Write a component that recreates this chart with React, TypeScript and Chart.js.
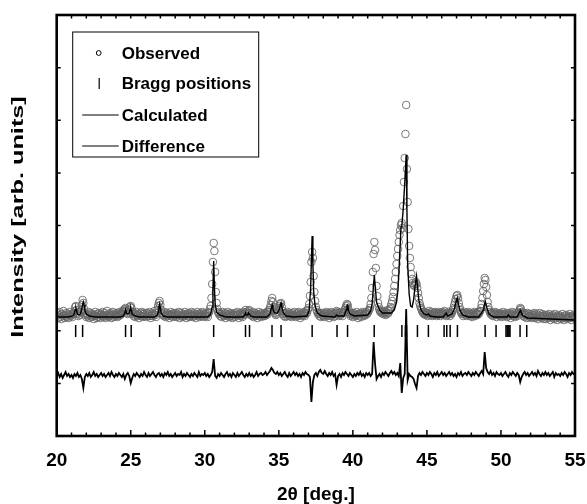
import React, { useEffect, useRef } from "react";
import { Chart, registerables } from "chart.js";

Chart.register(...registerables);

// ---- axes ----
const X_MIN = 20;
const X_MAX = 55;
const Y_MIN = -2;
const Y_MAX = 419;
const X_TICK_STEP = 5;
const Y_DIVISIONS = 8;

// ---- observed pattern (2θ from 20 to 55 in 0.05° steps) ----
const obsStart = 20;
const obsStep = 0.05;
const observed = [
  118,121,116,119,122,117,115,120,118,123,119,116,118,121,117,120,116,119,122,118,
  119,117,120,121,123,127,128,124,120,118,121,119,122,124,129,134,131,125,121,119,
  117,120,118,122,116,119,121,117,120,118,115,119,122,118,116,120,117,121,119,116,
  120,118,122,117,119,121,116,118,123,119,117,120,118,121,116,119,122,117,120,118,
  119,121,117,120,118,122,119,120,121,123,122,124,125,126,123,121,120,122,124,127,
  128,126,122,120,118,121,117,119,122,118,120,116,119,121,118,122,117,120,118,121,
  119,117,121,118,120,122,118,116,119,121,118,120,123,119,117,121,124,128,131,133,
  129,124,121,119,120,118,122,117,119,121,118,120,116,119,122,118,120,117,121,119,
  118,121,117,120,119,122,116,118,121,119,117,120,118,122,119,116,120,118,121,117,
  120,118,122,119,117,121,118,120,116,119,122,118,120,117,121,119,118,122,120,117,
  119,121,118,120,117,121,122,125,128,136,150,172,191,183,162,142,131,125,122,120,
  121,118,120,117,122,119,118,121,116,120,118,122,119,117,120,121,118,116,120,119,
  117,121,119,118,122,120,116,119,121,118,120,117,122,119,121,124,122,120,121,123,
  124,121,119,120,118,122,117,119,121,118,120,116,119,122,118,120,117,121,119,118,
  120,118,121,119,122,120,122,124,126,129,133,136,132,127,123,121,119,120,122,124,
  126,128,130,131,127,123,120,118,121,117,120,118,122,119,121,118,120,117,121,119,
  118,122,119,117,120,121,118,122,119,116,120,118,121,119,122,118,120,123,121,124,
  126,130,138,152,172,182,176,158,142,133,127,124,122,120,121,118,120,117,121,119,
  118,121,117,120,122,119,118,121,116,120,118,122,119,121,117,120,118,121,123,122,
  120,118,121,119,122,120,118,121,122,124,126,128,130,129,125,122,120,118,121,119,
  117,121,119,120,118,122,119,116,120,118,121,117,120,122,119,118,121,119,122,120,
  121,123,124,126,130,136,146,162,180,192,184,166,148,138,131,127,124,122,123,121,
  122,120,123,121,119,122,120,124,121,123,125,127,130,133,137,142,148,155,162,170,
  178,185,192,199,204,209,211,206,228,252,276,300,329,265,232,205,188,176,167,160,
  155,151,149,148,150,152,150,146,141,136,131,128,126,124,122,121,120,122,119,121,
  120,118,121,123,120,119,122,118,120,121,119,122,120,118,121,119,122,120,118,121,
  120,122,119,121,123,120,118,121,119,122,120,118,121,120,122,124,126,129,132,135,
  138,139,136,131,127,124,122,120,121,118,120,122,119,121,118,120,122,119,121,118,
  120,117,121,119,122,118,120,121,119,122,120,122,123,126,130,136,143,150,156,154,
  147,139,132,127,124,122,120,121,119,118,121,120,122,119,117,121,119,120,118,121,
  119,117,120,122,118,120,119,121,117,120,118,121,119,116,120,122,118,119,121,117,
  119,120,118,121,122,124,126,125,122,120,118,121,117,119,120,116,121,118,120,117,
  118,116,120,117,119,121,116,118,120,117,115,119,121,117,118,116,120,118,115,119,
  117,115,119,116,118,120,117,114,118,116,119,117,115,120,116,118,114,117,119,116,
  118,115,117,120,116,114,118,116,119,117,115,118,116,120,117,114,118,116,119,117,
  116,
];

// ---- calculated profile ----
const calcAngles = [
  20.0, 20.8, 21.1, 21.2, 21.25, 21.3, 21.35, 21.4, 21.5, 21.6, 21.7, 21.75, 21.8, 21.85, 21.9, 22.0, 22.2, 22.6,
  24.3, 24.5, 24.6, 24.65, 24.7, 24.8, 24.9, 24.95, 25.0, 25.05, 25.1, 25.3, 25.6,
  26.6, 26.8, 26.85, 26.9, 26.95, 27.0, 27.05, 27.2, 27.5,
  30.2, 30.4, 30.5, 30.55, 30.6, 30.65, 30.7, 30.8, 31.0, 31.4,
  32.6, 32.7, 32.75, 32.8, 32.9, 32.95, 33.0, 33.1, 33.3,
  34.2, 34.4, 34.5, 34.55, 34.6, 34.7, 34.9, 35.05, 35.1, 35.15, 35.2, 35.3, 35.5, 36.0,
  36.9, 37.05, 37.15, 37.2, 37.25, 37.3, 37.35, 37.45, 37.6, 37.9,
  38.8, 38.9, 39.0, 39.4, 39.55, 39.6, 39.65, 39.7, 39.8, 40.1,
  41.0, 41.2, 41.3, 41.4, 41.45, 41.5, 41.6, 41.8, 42.0,
  42.6, 42.8, 42.95, 43.05, 43.15, 43.25, 43.3, 43.4, 43.5, 43.6, 43.65, 43.7, 43.8, 43.9,
  44.0, 44.1, 44.2, 44.3, 44.35, 44.45, 44.6, 44.8, 45.0, 45.1, 45.2, 45.6,
  46.1, 46.3, 46.4, 46.7, 46.85, 46.95, 47.05, 47.1, 47.2, 47.4, 47.8,
  48.5, 48.7, 48.8, 48.85, 48.95, 49.05, 49.2, 49.5,
  50.4, 50.5, 50.6, 51.1, 51.25, 51.3, 51.35, 51.5, 51.8, 55.0,
];
const calcValues = [
  117, 117, 118, 121, 124, 126, 123, 120, 119, 120, 125, 130, 132, 129, 124, 120, 118, 117,
  117, 118, 121, 124, 121, 120, 121, 124, 126, 123, 120, 118, 117,
  117, 119, 122, 127, 130, 126, 121, 118, 117,
  117, 120, 127, 145, 173, 147, 130, 122, 119, 117,
  117, 119, 121, 119, 119, 121, 120, 118, 117,
  117, 120, 126, 129, 125, 121, 121, 125, 129, 131, 127, 121, 118, 117,
  118, 124, 146, 175, 198, 170, 143, 128, 121, 118,
  117, 119, 118, 118, 124, 128, 129, 124, 120, 118,
  119, 123, 130, 150, 159, 149, 132, 124, 121,
  121, 124, 132, 145, 175, 207, 207, 225, 250, 279, 225, 170, 140, 128,
  127, 134, 148, 158, 150, 134, 124, 120, 119, 120, 118, 117,
  117, 121, 118, 120, 125, 131, 136, 132, 125, 119, 117,
  117, 121, 124, 128, 132, 126, 120, 117,
  117, 119, 117, 117, 122, 124, 122, 118, 116, 114,
];

// ---- difference curve (2θ from 20 to 55 in 0.1° steps) ----
const diffStart = 20;
const diffStep = 0.1;
const difference = [
  58,61,57,60,56,59,62,58,60,57,
  59,56,60,58,61,57,59,55,46,57,
  60,58,61,57,59,62,58,60,57,59,
  61,58,60,57,59,61,58,62,59,57,
  60,58,61,59,57,60,55,59,61,58,
  51,56,60,58,61,59,57,60,58,62,
  59,57,61,58,60,62,59,57,60,61,
  58,60,57,61,59,62,58,60,57,59,
  61,58,60,59,62,57,60,58,61,59,
  57,60,58,61,59,57,62,58,60,59,
  61,58,60,57,59,62,75,58,56,60,
  58,61,59,57,60,62,58,60,57,61,
  59,57,61,58,60,62,59,57,60,58,
  61,58,60,57,59,62,58,60,61,59,
  60,62,59,61,63,66,64,61,60,62,
  59,61,58,60,62,59,57,61,58,60,
  62,59,61,58,60,57,61,59,62,60,
  59,57,32,52,59,61,58,62,64,61,
  60,63,60,58,61,59,62,58,60,49,
  58,60,57,61,59,62,60,58,61,59,
  57,60,58,61,59,62,58,60,57,61,
  59,61,58,60,92,70,55,58,60,57,
  61,59,62,60,58,61,63,60,62,59,
  61,58,71,41,56,60,125,54,60,58,
  57,55,50,46,58,61,59,62,60,58,
  61,59,62,60,57,61,59,62,58,60,
  62,59,61,58,60,62,59,61,58,60,
  57,61,59,62,58,60,61,59,62,60,
  58,61,59,62,60,58,61,63,60,82,
  66,62,60,63,59,61,58,62,60,59,
  61,58,60,62,59,57,61,59,62,60,
  58,61,59,52,57,60,62,59,61,58,
  60,62,59,61,58,63,60,58,61,59,
  62,59,61,58,60,62,57,61,59,60,
  58,61,59,62,60,57,61,59,62,60,
  59,
];

// ---- Bragg reflection positions ----
const braggAngles = [
  21.28, 21.75, 24.65, 25.03, 26.95, 30.6, 32.75, 33.02, 34.54, 35.15, 37.25,
  38.93, 39.64, 41.44, 43.31, 43.55, 43.62, 44.36, 45.1, 46.16, 46.34, 46.57,
  47.06, 48.93, 49.67, 50.34, 50.42, 50.48, 50.55, 50.61, 51.29, 51.74,
];
const braggLevel = 103;

const xTitle = "2\u03B8 [deg.]";
const yTitle = "Intensity [arb. units]";
const legendLabels = ["Observed", "Bragg positions", "Calculated", "Difference"];

const FONT = '"Liberation Sans", Arial, Helvetica, sans-serif';

const framePlugin = {
  id: "frameTicks",
  afterDraw(chart: any) {
    const { ctx, chartArea: a, scales } = chart;
    const xs = scales.x;
    ctx.save();
    ctx.strokeStyle = "#000";
    ctx.lineWidth = 1.5;
    ctx.beginPath();
    for (let v = X_MIN + 1; v < X_MAX; v += 1) {
      const px = xs.getPixelForValue(v);
      const major = (v - X_MIN) % X_TICK_STEP === 0;
      ctx.moveTo(px, a.bottom);
      ctx.lineTo(px, a.bottom - (major ? 6 : 3.5));
      ctx.moveTo(px, a.top);
      ctx.lineTo(px, a.top + 3.5);
    }
    const ys = scales.y;
    const step = (Y_MAX - Y_MIN) / Y_DIVISIONS;
    for (let k = 1; k < Y_DIVISIONS; k++) {
      const py = ys.getPixelForValue(Y_MIN + k * step);
      ctx.moveTo(a.left, py);
      ctx.lineTo(a.left + 4, py);
      ctx.moveTo(a.right, py);
      ctx.lineTo(a.right - 4, py);
    }
    ctx.stroke();
    ctx.lineWidth = 2.6;
    ctx.strokeRect(a.left, a.top, a.right - a.left, a.bottom - a.top);

    // y-axis title
    ctx.save();
    ctx.translate(19, 217);
    ctx.rotate(-Math.PI / 2);
    ctx.scale(1.58, 1);
    ctx.font = `bold 16px ${FONT}`;
    ctx.fillStyle = "#000";
    ctx.textAlign = "center";
    ctx.textBaseline = "middle";
    ctx.fillText(yTitle, 0, 0);
    ctx.restore();

    // legend
    const bx = a.left + 16;
    const by = a.top + 17;
    ctx.lineWidth = 1;
    ctx.strokeStyle = "#000";
    ctx.strokeRect(bx, by, 186, 125);
    const rowY = [by + 21, by + 51, by + 83, by + 114];
    const textX = bx + 49;
    ctx.font = `bold 17px ${FONT}`;
    ctx.fillStyle = "#000";
    ctx.textAlign = "left";
    ctx.textBaseline = "middle";
    legendLabels.forEach((lab, i) => {
      ctx.fillText(lab, textX, rowY[i] + 1);
    });
    // markers
    ctx.lineWidth = 1;
    ctx.beginPath();
    ctx.arc(bx + 26, rowY[0], 2.4, 0, Math.PI * 2);
    ctx.stroke();
    ctx.lineWidth = 1.2;
    ctx.beginPath();
    ctx.moveTo(bx + 26.5, rowY[1] - 5);
    ctx.lineTo(bx + 26.5, rowY[1] + 6);
    ctx.moveTo(bx + 9.5, rowY[2]);
    ctx.lineTo(bx + 46, rowY[2]);
    ctx.moveTo(bx + 9.5, rowY[3]);
    ctx.lineTo(bx + 46, rowY[3]);
    ctx.stroke();
    ctx.restore();
  },
};

export default function App() {
  const ref = useRef<HTMLCanvasElement | null>(null);

  useEffect(() => {
    if (!ref.current) return;
    const obsPts = observed.map((y, i) => ({ x: obsStart + i * obsStep, y }));
    const calcPts = calcAngles.map((x, i) => ({ x, y: calcValues[i] }));
    const diffPts = difference.map((y, i) => ({ x: diffStart + i * diffStep, y }));
    const braggPts = braggAngles.map((x) => ({ x, y: braggLevel }));

    const chart = new Chart(ref.current, {
      type: "scatter",
      data: {
        datasets: [
          {
            label: legendLabels[0],
            data: obsPts,
            showLine: false,
            pointStyle: "circle",
            pointRadius: 3.8,
            borderColor: "rgba(100,100,100,0.95)",
            backgroundColor: "rgba(0,0,0,0)",
            borderWidth: 0.9,
            order: 4,
          },
          {
            label: legendLabels[1],
            data: braggPts,
            showLine: false,
            pointStyle: "line",
            rotation: 90,
            pointRadius: 6,
            borderColor: "#000",
            borderWidth: 1.5,
            order: 3,
          },
          {
            label: legendLabels[2],
            data: calcPts,
            showLine: true,
            pointRadius: 0,
            borderColor: "#000",
            borderWidth: 1.4,
            order: 2,
          },
          {
            label: legendLabels[3],
            data: diffPts,
            showLine: true,
            pointRadius: 0,
            borderColor: "#000",
            borderWidth: 1.8,
            order: 1,
          },
        ],
      },
      options: {
        animation: false,
        responsive: false,
        devicePixelRatio: 1,
        events: [],
        layout: { padding: { top: 15, right: 12, left: 0, bottom: 0 } },
        plugins: {
          legend: { display: false },
          tooltip: { enabled: false },
        },
        scales: {
          x: {
            type: "linear",
            min: X_MIN,
            max: X_MAX,
            grid: { display: false, drawTicks: false },
            border: { display: false },
            ticks: {
              stepSize: X_TICK_STEP,
              autoSkip: false,
              maxRotation: 0,
              color: "#000",
              padding: 13,
              font: { family: FONT, size: 19, weight: "bold" },
            },
            title: {
              display: true,
              text: xTitle,
              color: "#000",
              padding: { top: 0, bottom: 0 },
              font: { family: FONT, size: 19, weight: "bold", lineHeight: 1.0 },
            },
            afterFit: (s: any) => {
              s.height = 68;
              s.paddingLeft = 0;
              s.paddingRight = 0;
            },
          },
          y: {
            type: "linear",
            min: Y_MIN,
            max: Y_MAX,
            grid: { display: false, drawTicks: false },
            border: { display: false },
            ticks: { display: false },
            afterFit: (s: any) => {
              s.width = 56.7;
              s.paddingTop = 0;
              s.paddingBottom = 0;
            },
          },
        },
      },
      plugins: [framePlugin],
    });
    return () => chart.destroy();
  }, []);

  return (
    <div style={{ position: "fixed", left: 0, top: 0, width: 587, height: 504, background: "#fff" }}>
      <canvas ref={ref} width={587} height={504} style={{ display: "block" }} />
    </div>
  );
}
